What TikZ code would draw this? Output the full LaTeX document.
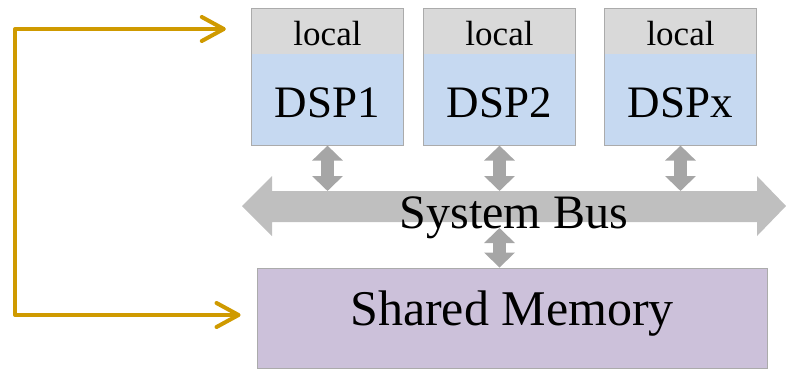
\documentclass[tikz,border=0pt]{standalone}
\usepackage{fontspec}
\setmainfont{Liberation Serif}
\usetikzlibrary{arrows.meta,positioning}

\definecolor{localgray}{HTML}{D9D9D9}
\definecolor{dspblue}{HTML}{C6D9F1}
\definecolor{memlilac}{HTML}{CCC1DA}
\definecolor{busgray}{HTML}{BFBFBF}
\definecolor{linkgray}{HTML}{A6A6A6}
\definecolor{edgegray}{HTML}{ABABAB}
\definecolor{feedgold}{HTML}{CF9A00}

\tikzset{
  localcell/.style={fill=localgray, minimum width=151pt, minimum height=45pt,
    inner sep=0pt, text height=27pt, text depth=0pt, font=\fontsize{35}{35}\selectfont},
  dspcell/.style={fill=dspblue, minimum width=151pt, minimum height=91pt,
    inner sep=0pt, text height=35pt, text depth=0pt, font=\fontsize{45}{45}\selectfont},
  boxline/.style={draw=edgegray, line width=0.9pt},
  memcell/.style={fill=memlilac, draw=edgegray, line width=0.9pt, minimum width=510pt,
    minimum height=100pt, inner sep=0pt, text height=14pt, text depth=0pt,
    font=\fontsize{50}{50}\selectfont},
  buslabel/.style={inner sep=0pt, anchor=base, font=\fontsize{48}{48}\selectfont},
  link/.style={draw=linkgray, line width=13pt,
    {Triangle[length=15pt,width=30pt]}-{Triangle[length=15pt,width=30pt]}},
  feed/.style={draw=feedgold, line width=4pt, line join=round,
    {Straight Barb[length=22pt,width=24pt,line cap=round,line join=round]}-{Straight Barb[length=22pt,width=24pt,line cap=round,line join=round]}}
}

\begin{document}
\begin{tikzpicture}[x=1pt,y=-1pt]
  \useasboundingbox (0,0) rectangle (786,370);

  % processors with their local memories
  \node[localcell] (local1) at (327.5,31.5) {local};
  \node[dspcell, below=0pt of local1] (dsp1) {DSP1};
  \node[localcell] (local2) at (499.5,31.5) {local};
  \node[dspcell, below=0pt of local2] (dsp2) {DSP2};
  \node[localcell] (localx) at (680.5,31.5) {local};
  \node[dspcell, below=0pt of localx] (dspx) {DSPx};
  \foreach \c in {1,2,x}
    \draw[boxline] (local\c.north west) rectangle (dsp\c.south east);

  % system bus
  \fill[busgray] (242,206) -- (272,176) -- (272,191) -- (757,191) -- (757,176)
    -- (786,206) -- (757,236) -- (757,222) -- (272,222) -- (272,236) -- cycle;
  \node[buslabel] (bus) at (514,228.6) {System Bus};
  \coordinate (bustop) at (514,191);
  \coordinate (busbot) at (514,228);

  % shared memory
  \node[memcell] (mem) at (512,318) {Shared Memory};

  % bus links
  \foreach \c in {1,2,x}
    \draw[link] (dsp\c.south) -- (dsp\c.south |- bustop);
  \draw[link] (dsp2.south |- busbot) -- (dsp2.south |- mem.north);

  % feedback path to processors and memory
  \coordinate (loopT) at (15,29);
  \coordinate (loopB) at (15,315);
  \draw[feed] ([xshift=-26pt,yshift=2.5pt]local1.west) -- (loopT) -- (loopB)
    -- ([xshift=-16pt,yshift=3pt]mem.west);
\end{tikzpicture}
\end{document}
